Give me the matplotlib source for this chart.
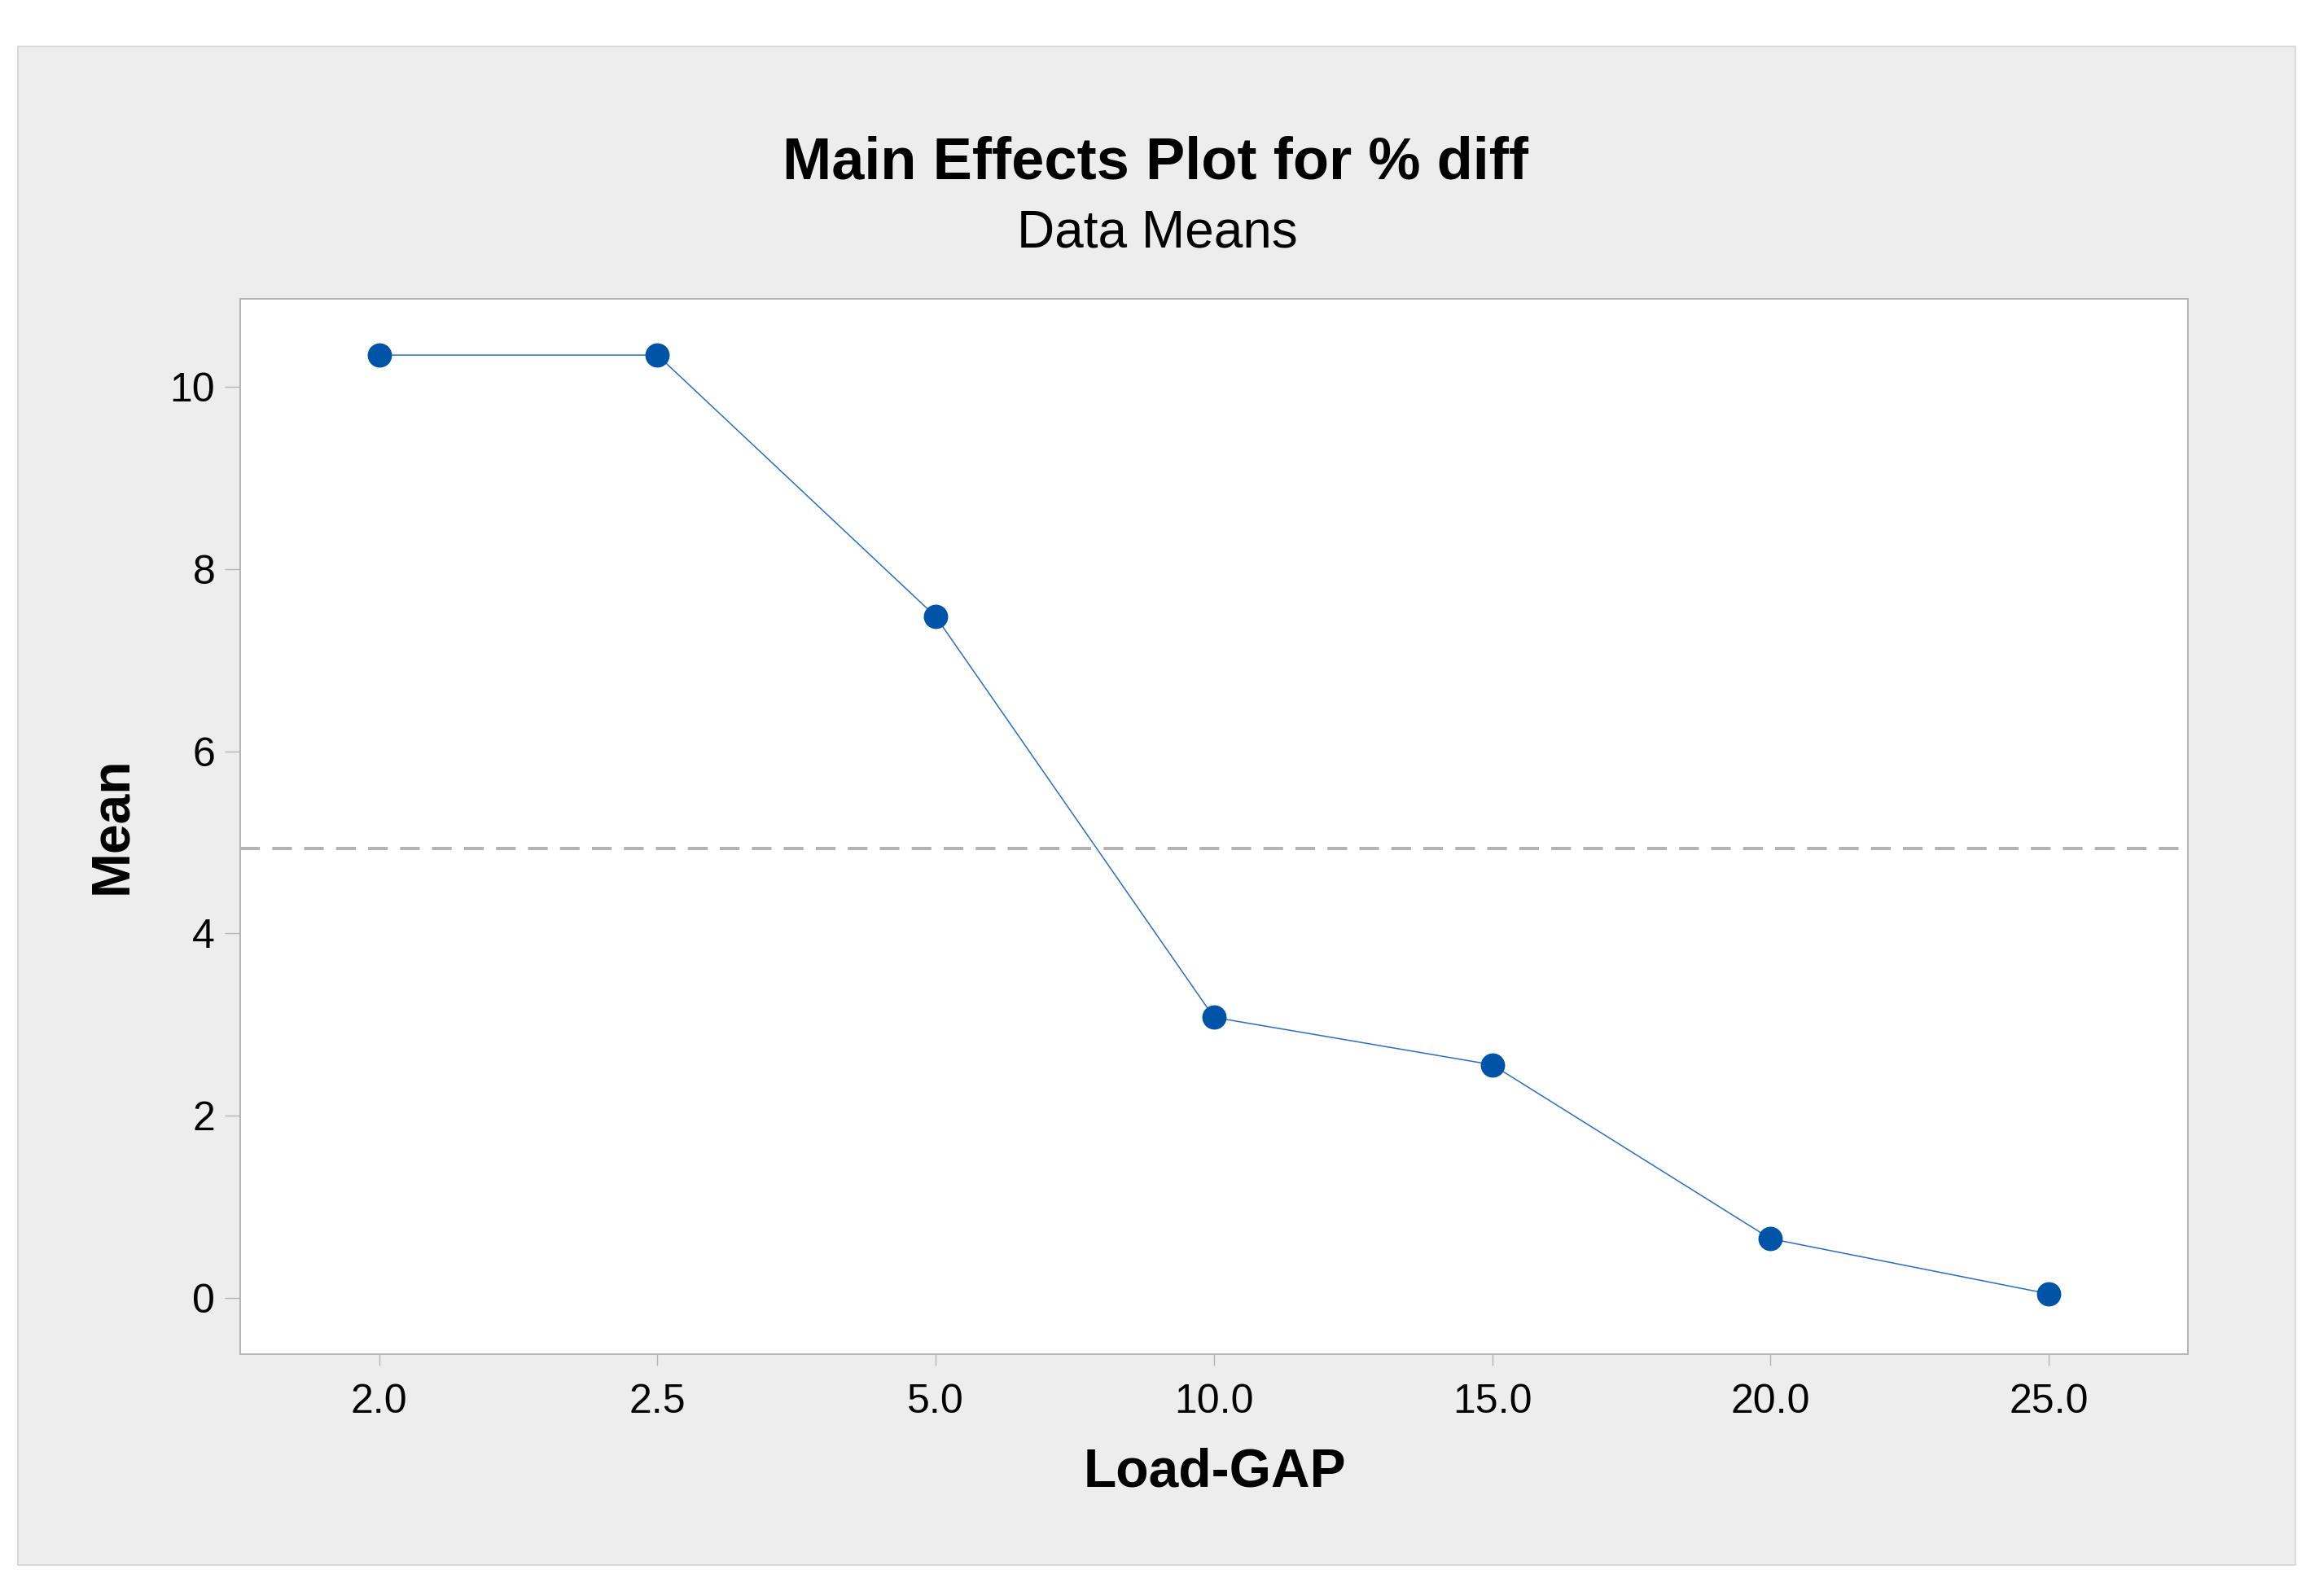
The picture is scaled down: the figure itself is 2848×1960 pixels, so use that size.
#!/usr/bin/env python3
import numpy as np
import matplotlib
matplotlib.use("Agg")
import matplotlib.pyplot as plt
from matplotlib.patches import Rectangle

plt.rcParams['font.family'] = ['Liberation Sans', 'DejaVu Sans']

# Data (Minitab main effects plot)
load_gap_labels = ["2.0", "2.5", "5.0", "10.0", "15.0", "20.0", "25.0"]
mean_diff = [10.35, 10.35, 7.48, 3.08, 2.56, 0.65, 0.045]
y_ticks = [0, 2, 4, 6, 8, 10]

title = "Main Effects Plot for % diff"
subtitle = "Data Means"
x_label = "Load-GAP"
y_label = "Mean"

marker_color = '#0054A8'
line_color = '#2B6EC0'
ref_color = '#B3B3B3'
axis_gray = '#B4B4B4'
panel_color = '#EDEDED'

W, H, DPI = 2848, 1960, 100
fig = plt.figure(figsize=(W / DPI, H / DPI), dpi=DPI, facecolor='white')

# grey outer panel, kept behind the axes
panel = Rectangle((22 / W, 1 - 1922 / H), (2819 - 22) / W, (1922 - 57) / H,
                  transform=fig.transFigure, facecolor=panel_color,
                  edgecolor='#D4D4D4', linewidth=1.2, zorder=-5)
fig.patches.append(panel)

ax = fig.add_axes([294.8 / W, 1 - 1663 / H, (2687 - 294.8) / W, (1663 - 366.7) / H])
ax.set_zorder(2)
ax.set_facecolor('white')

x_pos = np.arange(len(load_gap_labels))
overall_mean = np.mean(mean_diff)

ax.axhline(overall_mean, color=ref_color, linewidth=2.9, dashes=(6, 3.75), zorder=1)
ax.plot(x_pos, mean_diff, color=line_color, linewidth=1.1, zorder=2)
ax.plot(x_pos, mean_diff, linestyle='none', marker='o', markersize=21.5,
        markerfacecolor=marker_color, markeredgewidth=0, zorder=3)

ax.set_xlim(-0.5, 6.5)
ax.set_ylim(-0.617, 10.97)
ax.set_xticks(x_pos)
ax.set_xticklabels(load_gap_labels)
ax.set_yticks(y_ticks)

for side in ['left', 'right', 'top', 'bottom']:
    ax.spines[side].set_color(axis_gray)
    ax.spines[side].set_linewidth(1.4)

ax.tick_params(axis='x', direction='out', length=10, width=1.0, color=axis_gray,
               pad=16, labelsize=36, labelcolor='black')
ax.tick_params(axis='y', direction='out', length=14, width=1.0, color=axis_gray,
               pad=8, labelsize=36, labelcolor='black')

# axis titles placed where the reference has them
fig.text(1492 / W, 1 - 1808 / H, x_label, ha='center', va='center',
         fontsize=47.5, fontweight='bold')
fig.text(138 / W, 1 - 1014 / H, y_label, ha='center', va='center',
         rotation=90, fontsize=47.5, fontweight='bold')

# titles
fig.text(1419 / W, 1 - 220 / H, title, ha='center', va='baseline',
         fontsize=52, fontweight='bold')
fig.text(1421 / W, 1 - 303 / H, subtitle, ha='center', va='baseline',
         fontsize=46)

fig.savefig("out.png", dpi=DPI)
print("Saved: out.png")
